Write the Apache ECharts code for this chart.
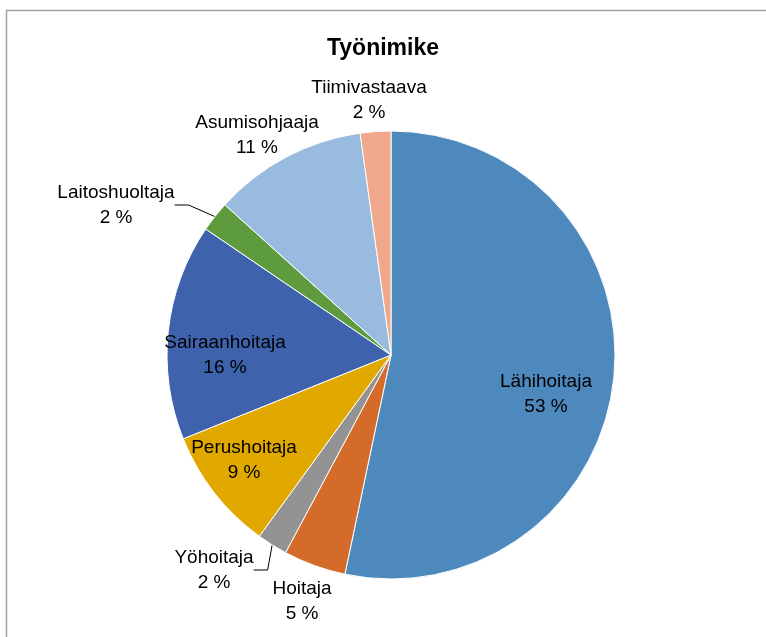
<!DOCTYPE html>
<html>
<head>
<meta charset="utf-8">
<script src="https://cdn.jsdelivr.net/npm/echarts@6/dist/echarts.min.js"></script>
<style>
  html, body { margin: 0; padding: 0; background: #fff; }
  #main { width: 766px; height: 637px; }
</style>
</head>
<body>
<div id="main"></div>
<script>
// tehtävänimikkeet, osuus (%) luettu kuvasta
var categories = ['Lähihoitaja', 'Hoitaja', 'Yöhoitaja', 'Perushoitaja', 'Sairaanhoitaja', 'Laitoshuoltaja', 'Asumisohjaaja', 'Tiimivastaava']
var shares = [53.3, 4.5, 2.2, 8.9, 15.6, 2.2, 11.1, 2.2]
var colors = ['#4E89BE', '#D46B2A', '#939393', '#E1A900', '#3E63AC', '#5E9B3F', '#9ABBE0', '#EFA88B']

// label placement (Excel "best fit" look)
var labelSpots = {
  0: { x: 546, y: 394 },
  1: { x: 302, y: 601 },
  2: { x: 214, y: 570, line: true },
  3: { x: 244, y: 460 },
  4: { x: 225, y: 355 },
  5: { x: 116, y: 205, line: true },
  6: { x: 257, y: 135 },
  7: { x: 369, y: 100 }
}

var font = '"Liberation Sans", Arial, sans-serif'
var seriesData = categories.map(function (name, i) {
  return {
    name: name,
    value: shares[i],
    itemStyle: { color: colors[i] },
    labelLine: { show: !!labelSpots[i].line }
  }
})

var chart = echarts.init(document.getElementById('main'))
var option = {
  backgroundColor: '#fff',
  animation: false,
  title: {
    text: 'Työnimike',
    left: 'center',
    top: 32,
    textStyle: { fontFamily: font, fontSize: 23, fontWeight: 'bold', color: '#000' }
  },
  graphic: [{
    type: 'rect',
    shape: { x: 6.5, y: 10.5, width: 800, height: 700 },
    style: { fill: null, stroke: '#a0a0a0', lineWidth: 1.5 },
    silent: true
  }],
  series: [{
    type: 'pie',
    center: [391, 355],
    radius: 224,
    startAngle: 90,
    clockwise: true,
    data: seriesData,
    itemStyle: { borderColor: '#fff', borderWidth: 1 },
    label: {
      show: true,
      position: 'outside',
      fontFamily: font,
      fontSize: 19,
      lineHeight: 25,
      color: '#000',
      align: 'center',
      formatter: function (p) {
        return p.name + '\n' + Math.round(p.percent) + ' %'
      }
    },
    labelLine: {
      length: 12,
      length2: 14,
      lineStyle: { color: '#000', width: 1 }
    },
    labelLayout: function (params) {
      var spot = labelSpots[params.dataIndex]
      return { x: spot.x, y: spot.y, align: 'center', verticalAlign: 'middle' }
    }
  }]
}
chart.setOption(option)
</script>
</body>
</html>
